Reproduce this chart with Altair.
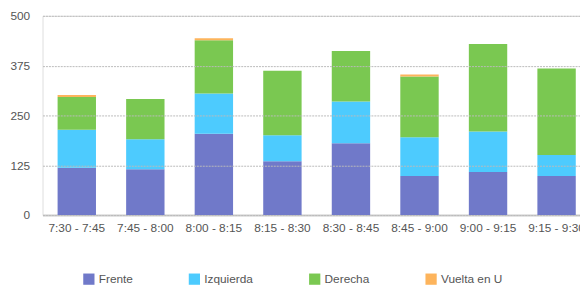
import altair as alt
import pandas as pd

intervals = ["7:30 - 7:45", "7:45 - 8:00", "8:00 - 8:15", "8:15 - 8:30",
             "8:30 - 8:45", "8:45 - 9:00", "9:00 - 9:15", "9:15 - 9:30"]
series = ["Frente", "Izquierda", "Derecha", "Vuelta en U"]
frente = [119, 115, 204, 135, 180, 98, 108, 98]
izquierda = [95, 75, 101, 65, 105, 97, 102, 53]
derecha = [82, 101, 134, 162, 127, 153, 219, 217]
vuelta = [5, 0, 5, 0, 0, 5, 0, 0]
colors = ["#7079C9", "#4DCBFE", "#7AC851", "#FDB45C"]

rows = []
for name, vals in zip(series, [frente, izquierda, derecha, vuelta]):
    for i, (iv, v) in enumerate(zip(intervals, vals)):
        rows.append({"Intervalo": iv, "Serie": name, "Valor": v,
                     "orden": series.index(name)})
df = pd.DataFrame(rows)

font = "Liberation Sans"

chart = alt.Chart(df).mark_bar().encode(
    x=alt.X("Intervalo:N", sort=intervals, title=None,
            scale=alt.Scale(range=[0, 556], paddingInner=0.44, paddingOuter=0.22),
            axis=alt.Axis(labelAngle=0, labelFontSize=12, labelColor="#555",
                          labelFont=font, ticks=False, domainColor="#ccc",
                          domainWidth=2, labelPadding=8, grid=False)),
    y=alt.Y("Valor:Q", stack="zero", title=None,
            scale=alt.Scale(domain=[0, 500]),
            axis=alt.Axis(values=[0, 125, 250, 375, 500], labelFontSize=12,
                          labelColor="#555", labelFont=font, ticks=False,
                          domain=False, labelPadding=13, gridColor="#bbb",
                          gridDash=[2, 1], gridWidth=1, zindex=1)),
    color=alt.Color("Serie:N", sort=series,
                    scale=alt.Scale(domain=series, range=colors),
                    legend=alt.Legend(orient="none", legendX=41, legendY=261,
                                      direction="horizontal",
                                      title=None, symbolType="square",
                                      symbolSize=130, symbolStrokeWidth=0,
                                      labelFontSize=12, labelColor="#555",
                                      labelFont=font, columnPadding=56,
                                      symbolOpacity=1)),
    order=alt.Order("orden:Q", sort="ascending"),
).properties(
    width=545, height=202,
    autosize=alt.AutoSizeParams(type="none"),
    padding={"left": 35, "top": 6, "right": 0, "bottom": 70},
).configure_view(stroke=None).configure(background="white")

chart.save("out.html", embed_options={"renderer": "svg", "actions": False})
